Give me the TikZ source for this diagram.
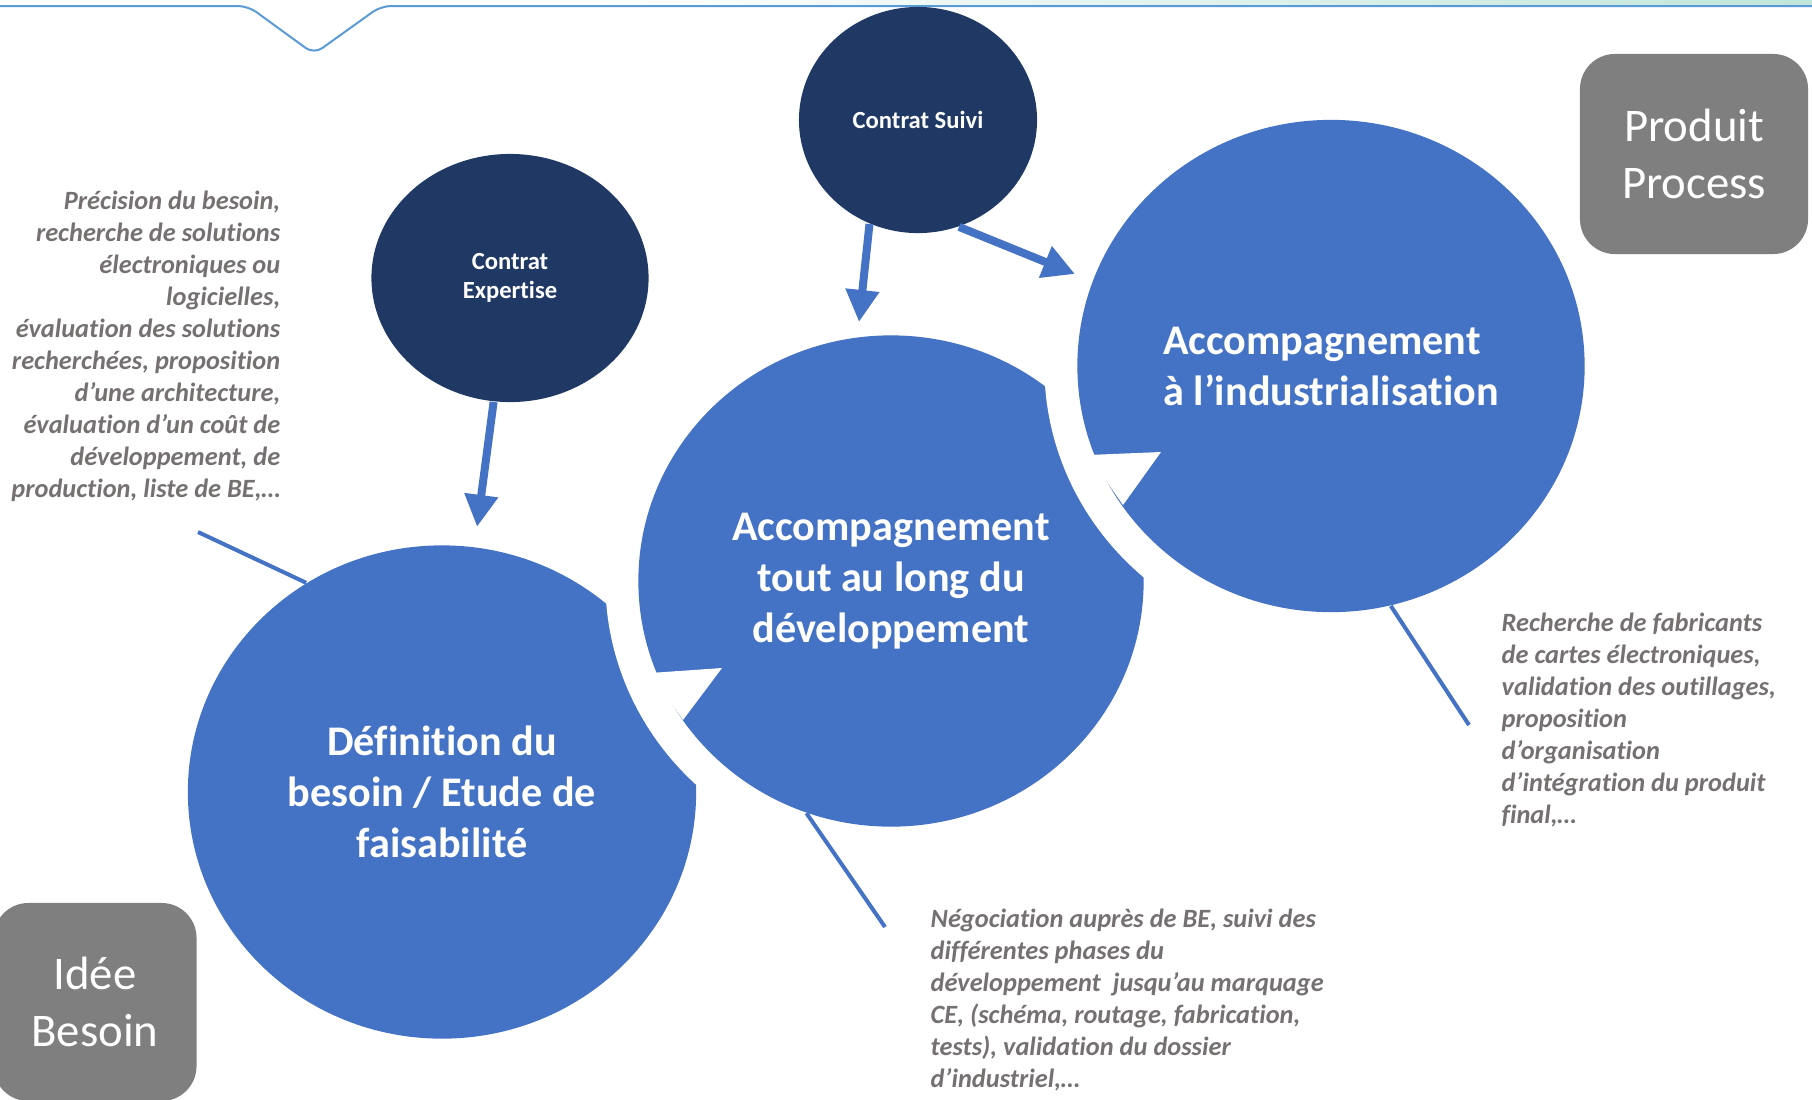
\documentclass[tikz,border=0pt]{standalone}
\usepackage{fontspec}
\setmainfont{Carlito}[Ligatures=NoCommon]
\usepackage{tikz}
\usetikzlibrary{shapes.geometric,arrows.meta}
\definecolor{bulle}{HTML}{4472C4}
\definecolor{contrat}{HTML}{203864}
\definecolor{cadre}{HTML}{7F7F7F}
\definecolor{grisnote}{HTML}{757171}
\definecolor{filet}{HTML}{5B9BD5}

\begin{document}
\begin{tikzpicture}[x=0.01cm,y=-0.01cm,
    bulle/.style={ellipse,fill=bulle,text=white,inner sep=0pt,
        font=\fontsize{12}{14.5}\selectfont\bfseries,
        preaction={draw=white,line width=6.6mm}},
    contratnode/.style={ellipse,fill=contrat,text=white,inner sep=0pt,align=center,
        font=\fontsize{7}{8.2}\selectfont\bfseries},
    cadrenode/.style={rounded corners=0.35cm,fill=cadre,text=white,inner sep=0pt,align=center,
        font=\fontsize{13.3}{16.2}\selectfont},
    notenode/.style={text=grisnote,inner sep=0pt,
        font=\fontsize{7.5}{9.1}\selectfont\bfseries\itshape},
    fleche/.style={draw=bulle,line width=0.08cm,-{Triangle[width=0.32cm,length=0.32cm]}},
    trait/.style={draw=bulle,line width=0.04cm}]
\useasboundingbox (0,0) rectangle (1812,1099);
\shade[left color=white,middle color=cyan!8!teal!15,right color=green!20!teal!25] (600,0) rectangle (1812,5);
\draw[filet,line width=0.02cm,rounded corners=0.1cm] (0,6) -- (248,6) -- (314,54) -- (381,6) -- (1812,6);

\node[bulle,minimum width=5.08cm,minimum height=4.93cm,align=center] (definition) at (442,792)
    {D\'efinition du\\besoin / Etude de\\faisabilit\'e};
\node[bulle,minimum width=5.05cm,minimum height=4.91cm,align=center] (developpement) at (891,581)
    {Accompagnement\\tout au long du\\d\'eveloppement};
\fill[white] (650,673) -- (722,668) -- (683,720) -- cycle;
\node[bulle,minimum width=5.07cm,minimum height=4.92cm,align=left] (industrie) at (1331,366)
    {Accompagnement\\à l’industrialisation};
\fill[white] (1088,455) -- (1161,452) -- (1123,505) -- cycle;

\node[contratnode,minimum width=2.77cm,minimum height=2.48cm] (expertise) at (510,278) {Contrat\\Expertise};
\node[contratnode,minimum width=2.38cm,minimum height=2.26cm] (suivi) at (918,120) {Contrat Suivi};

\coordinate (pointedev) at (859,322);
\coordinate (pointeind) at (1075,274);
\draw[fleche,shorten >=0.2cm] (expertise) -- (definition);
\draw[fleche] (suivi.245) -- (pointedev);
\draw[fleche] (suivi.291) -- (pointeind);

\coordinate (finexp) at (198,532);
\coordinate (findev) at (885,927);
\coordinate (finind) at (1469,725);
\draw[trait] (definition.123) -- (finexp);
\draw[trait] (developpement.250) -- (findev);
\draw[trait] (industrie.284) -- (finind);

\node[notenode,anchor=east,align=right] (noteexp) at (281,346)
    {Pr\'ecision du besoin,\\recherche de solutions\\\'electroniques ou\\logicielles,\\\'evaluation des solutions\\recherch\'ees, proposition\\d’une architecture,\\\'evaluation d’un co\^ut de\\d\'eveloppement, de\\production, liste de BE,…};
\node[notenode,anchor=west,align=left] (notedev) at (930,1000)
    {N\'egociation aupr\`es de BE, suivi des\\diff\'erentes phases du\\d\'eveloppement\ \ jusqu’au marquage\\CE, (sch\'ema, routage, fabrication,\\tests), validation du dossier\\d’industriel,…};
\node[notenode,anchor=west,align=left] (noteind) at (1501,720)
    {Recherche de fabricants\\de cartes \'electroniques,\\validation des outillages,\\proposition\\d’organisation\\d’int\'egration du produit\\final,…};

\node[cadrenode,minimum width=2.28cm,minimum height=2.0cm] (produit) at (1694,154) {Produit\\Process};
\node[cadrenode,minimum width=2.03cm,minimum height=1.98cm] (idee) at (95,1002) {Id\'ee\\Besoin};
\end{tikzpicture}
\end{document}
